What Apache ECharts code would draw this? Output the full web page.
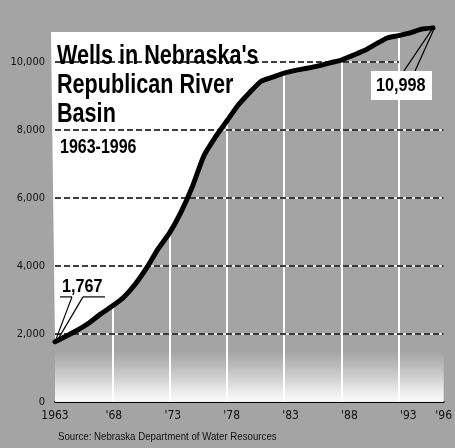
<!DOCTYPE html>
<html>
<head>
<meta charset="utf-8">
<script src="https://cdn.jsdelivr.net/npm/echarts@6/dist/echarts.min.js"></script>
<style>
  html, body { margin: 0; padding: 0; background: #a4a4a4; }
  #chart { width: 455px; height: 448px; }
</style>
</head>
<body>
<div id="chart"></div>
<script>
// Registered irrigation wells, Republican River basin (Nebraska), 1963-1996
const years = [1963, 1964, 1965, 1966, 1967, 1968, 1969, 1970, 1971, 1972,
               1973, 1974, 1975, 1976, 1977, 1978, 1979, 1980, 1981, 1982,
               1983, 1984, 1985, 1986, 1987, 1988, 1989, 1990, 1991, 1992,
               1993, 1994, 1995, 1996];
const wells = [1767, 1940, 2120, 2330, 2590, 2820, 3080, 3460, 3940, 4500,
               4970, 5580, 6340, 7240, 7790, 8260, 8730, 9100, 9430, 9550,
               9670, 9750, 9810, 9880, 9970, 10050, 10190, 10330, 10520, 10700,
               10770, 10850, 10960, 10998];

const yTicks = [0, 2000, 4000, 6000, 8000, 10000];
const xLabelYears = [1963, 1968, 1973, 1978, 1983, 1988, 1993, 1996];
const gridYears = [1968, 1973, 1978, 1983, 1988, 1993];

const titleLines = ["Wells in Nebraska's", 'Republican River', 'Basin'];
const subTitle = '1963-1996';
const sourceText = 'Source: Nebraska Department of Water Resources';

const HEAVY = "'Liberation Sans',Arial,sans-serif";
const NARROW = "'DejaVu Sans Condensed','Liberation Sans Narrow',sans-serif";
const PAPER = '#a4a4a4';
const Y_MAX = 11700;
const PANEL_TOP = 10880;   // upper edge of the white title panel
const FADE_TOP = 1500;     // height of the pale band along the base

const points = years.map((y, i) => [y, wells[i]]);
const fmt = v => v.toLocaleString('en-US');

const chart = echarts.init(document.getElementById('chart'), null, { renderer: 'canvas' });

const ruleData = yTicks.filter(v => v > 0)
  .map(v => [{ coord: [1963, v] }, { coord: [v === 10000 ? 1992.2 : 1996, v] }]);

// White panel: bounded above by PANEL_TOP and below by the curve
function renderPanel(params, api) {
  if (params.dataIndex !== 0) return null;
  const pts = [api.coord([years[0], PANEL_TOP])];
  points.forEach(p => pts.push(api.coord([p[0], Math.min(p[1], PANEL_TOP)])));
  pts.push(api.coord([years[years.length - 1], PANEL_TOP]));
  pts[0][0] -= 4;
  return { type: 'polygon', shape: { points: pts }, style: { fill: '#ffffff' }, silent: true };
}

const option = {
  animation: false,
  backgroundColor: PAPER,
  grid: [
    { left: 55, right: 22, top: 4, bottom: 46 },
    { left: 55, right: 7, top: 4, bottom: 46 }
  ],
  xAxis: [
    {
      gridIndex: 0, type: 'value', min: 1963, max: 1996,
      axisLine: { show: false }, axisTick: { show: false },
      axisLabel: { show: false }, splitLine: { show: false }
    },
    {
      gridIndex: 1, type: 'value', min: 1963, max: 1996,
      axisLine: { show: true, onZero: false, lineStyle: { color: '#000', width: 2 } },
      axisTick: { show: false },
      splitLine: { show: false },
      axisLabel: {
        customValues: xLabelYears,
        margin: 8,
        fontFamily: NARROW, fontSize: 12, color: '#111',
        formatter: v => (v === 1963 ? '1963' : "'" + String(v).slice(2))
      }
    }
  ],
  yAxis: [
    {
      gridIndex: 0, type: 'value', min: 0, max: Y_MAX,
      axisLine: { show: false }, axisTick: { show: false }, splitLine: { show: false },
      axisLabel: {
        customValues: yTicks,
        margin: 10,
        fontFamily: NARROW, fontSize: 11, color: '#111',
        formatter: v => fmt(v)
      }
    },
    {
      gridIndex: 1, type: 'value', min: 0, max: Y_MAX, show: false
    }
  ],
  series: [
    {
      type: 'custom', xAxisIndex: 0, yAxisIndex: 0, z: 1, silent: true,
      data: [[years[0], wells[0]]],
      renderItem: renderPanel
    },
    // pale band along the base of the chart
    {
      type: 'line', xAxisIndex: 1, yAxisIndex: 1, z: 2, silent: true,
      data: [[1963, FADE_TOP], [1996, FADE_TOP]],
      symbol: 'none', lineStyle: { width: 0, opacity: 0 },
      areaStyle: {
        opacity: 1,
        color: {
          type: 'linear', x: 0, y: 0, x2: 0, y2: 1,
          colorStops: [
            { offset: 0, color: 'rgba(255,255,255,0)' },
            { offset: 0.45, color: 'rgba(255,255,255,0.4)' },
            { offset: 0.8, color: 'rgba(255,255,255,0.8)' },
            { offset: 1, color: 'rgba(255,255,255,0.95)' }
          ]
        }
      }
    },
    // white vertical year rules
    {
      type: 'line', xAxisIndex: 0, yAxisIndex: 0, data: [], z: 4, silent: true,
      markLine: {
        z: 4, silent: true, symbol: ['none', 'none'], label: { show: false },
        lineStyle: { color: '#ffffff', width: 2, type: 'solid' },
        data: gridYears.map(y => [{ coord: [y, 0] }, { coord: [y, PANEL_TOP] }])
      }
    },
    // horizontal value rules: white base under black dashes
    {
      type: 'line', xAxisIndex: 1, yAxisIndex: 1, data: [], z: 5, silent: true,
      markLine: {
        z: 5, silent: true, symbol: ['none', 'none'], label: { show: false },
        lineStyle: { color: '#ffffff', width: 1.5, type: 'solid' },
        data: ruleData
      }
    },
    {
      type: 'line', xAxisIndex: 1, yAxisIndex: 1, data: [], z: 6, silent: true,
      markLine: {
        z: 6, silent: true, symbol: ['none', 'none'], label: { show: false },
        lineStyle: { color: '#000', width: 1.6, type: [6, 3] },
        data: ruleData
      }
    },
    // the well count curve
    {
      type: 'line', xAxisIndex: 0, yAxisIndex: 0, data: points, z: 8, silent: true,
      symbol: 'none', smooth: 0.2,
      lineStyle: { color: '#000', width: 5, cap: 'round' }
    }
  ]
};

chart.setOption(option);

// Text blocks and the callouts for the first and last values
const first = chart.convertToPixel({ xAxisIndex: 0, yAxisIndex: 0 }, points[0]);
const last = chart.convertToPixel({ xAxisIndex: 0, yAxisIndex: 0 }, points[points.length - 1]);
const stroke = { stroke: '#000', lineWidth: 1.2 };
const seg = (x1, y1, x2, y2) => ({ type: 'line', shape: { x1, y1, x2, y2 }, style: stroke, z: 20, silent: true });
const txt = (text, x, y, font, scaleX, extra) => ({
  type: 'text', x, y, scaleX, z: 20, silent: true,
  style: Object.assign({ text, font, fill: '#000', verticalAlign: 'top' }, extra || {})
});

const fx = first[0], fy = first[1];
const lx = last[0], ly = last[1];

chart.setOption({
  graphic: [
    txt(titleLines.join('\n'), 57, 42, 'bold 27px ' + HEAVY, 0.8, { lineHeight: 29 }),
    txt(subTitle, 60, 137, 'bold 20px ' + HEAVY, 0.8),
    txt(sourceText, 58, 431, '11px ' + HEAVY, 0.88, { fill: '#111' }),
    txt(fmt(wells[0]), fx + 7, fy - 64, 'bold 18px ' + HEAVY, 0.9),
    seg(fx + 5, fy - 45, fx + 17, fy - 45),
    seg(fx + 28, fy - 45, fx + 50, fy - 45),
    seg(fx, fy, fx + 17, fy - 45),
    seg(fx + 2, fy - 1, fx + 28, fy - 45),
    {
      type: 'rect', z: 19, silent: true,
      shape: { x: lx - 62, y: ly + 43, width: 61, height: 29 },
      style: { fill: '#ffffff' }
    },
    txt(fmt(wells[wells.length - 1]), lx - 57, ly + 49, 'bold 18px ' + HEAVY, 0.9),
    seg(lx - 29, ly + 43, lx, ly),
    seg(lx - 18, ly + 43, lx + 1, ly + 1)
  ]
});
</script>
</body>
</html>
